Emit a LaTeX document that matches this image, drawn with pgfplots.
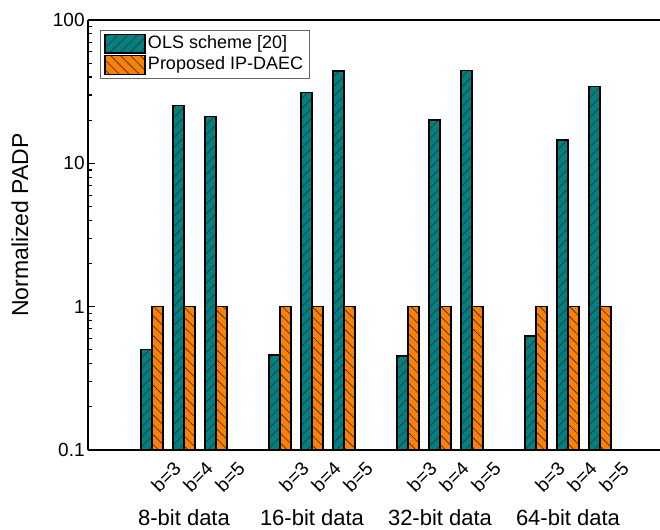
\documentclass[border=0pt]{standalone}
\usepackage{fontspec}
\setmainfont{Liberation Sans}
\usepackage{pgfplots}
\pgfplotsset{compat=1.18}
\usetikzlibrary{patterns.meta,calc}
\definecolor{olsc}{RGB}{0,128,128}
\definecolor{ipc}{RGB}{255,128,0}
\definecolor{hatchc}{RGB}{60,60,60}
\begin{document}
\begin{tikzpicture}
\begin{axis}[
  name=ax,
  scale only axis,
  width=286pt, height=215pt,
  xmin=-2, xmax=15.875,
  ymode=log, ymin=0.1, ymax=100,
  log origin=infty,
  axis x line=box, axis y line=left,
  x axis line style={-}, y axis line style={-},
  axis line style={line width=1pt},
  ybar=0pt, bar width=0.34,
  ytick={0.1,1,10,100},
  yticklabels={0.1,1,10,100},
  minor ytick={0.2,0.3,0.4,0.5,0.6,0.7,0.8,0.9,2,3,4,5,6,7,8,9,20,30,40,50,60,70,80,90},
  ytick align=inside,
  major tick length=3.5pt, minor tick length=2pt,
  every tick/.style={black, line width=0.6pt},
  yticklabel style={font=\fontsize{9.5}{11}\selectfont, inner sep=1.5pt},
  xtick={0,1,2,4,5,6,8,9,10,12,13,14},
  xticklabels={{b=3},{b=4},{b=5},{b=3},{b=4},{b=5},{b=3},{b=4},{b=5},{b=3},{b=4},{b=5}},
  xtick style={draw=none},
  minor x tick num=0,
  xticklabel style={xshift=13.5pt, yshift=-3.5pt, rotate=45, anchor=east, font=\fontsize{9.5}{10}\selectfont, inner sep=1pt},
  /pgf/number format/assume math mode=true,
  legend style={at={(rel axis cs:0,1)}, anchor=north west, xshift=6pt, yshift=-5pt,
    draw=black!60, line width=0.5pt, font=\fontsize{9}{10}\selectfont,
    inner xsep=2pt, inner ysep=1.5pt, row sep=0.5pt,
    nodes={inner sep=1pt}},
  legend cell align=left,
  legend image code/.code={\draw[#1] (0pt,-4.7pt) rectangle (20pt,4.7pt);},
]
\addplot[draw=black, line width=0.75pt, fill=olsc,
  postaction={pattern={Lines[angle=45,distance=3.5pt,line width=0.4pt]}, pattern color=hatchc}]
  coordinates {(0,0.504) (1,25.3) (2,21.3)
               (4,0.460) (5,31.3) (6,44.2)
               (8,0.451) (9,20.1) (10,44.4)
               (12,0.625) (13,14.5) (14,34.5)};
\addlegendentry{OLS scheme [20]}
\addplot[draw=black, line width=0.75pt, fill=ipc,
  postaction={pattern={Lines[angle=-45,distance=3.5pt,line width=0.4pt]}, pattern color=hatchc}]
  coordinates {(0,1) (1,1) (2,1)
               (4,1) (5,1) (6,1)
               (8,1) (9,1) (10,1)
               (12,1) (13,1) (14,1)};
\addlegendentry{Proposed IP-DAEC}
\coordinate (yl) at (rel axis cs:0,0.523);
\coordinate (g1) at (axis cs:1,0.1);
\coordinate (g2) at (axis cs:5,0.1);
\coordinate (g3) at (axis cs:9,0.1);
\coordinate (g4) at (axis cs:13,0.1);
\end{axis}
\node[rotate=90, font=\fontsize{11.5}{13}\selectfont] at ([xshift=-34pt]yl) {Normalized PADP};
\node[font=\fontsize{11}{13}\selectfont] at ([yshift=-34pt]g1) {8-bit data};
\node[font=\fontsize{11}{13}\selectfont] at ([yshift=-34pt]g2) {16-bit data};
\node[font=\fontsize{11}{13}\selectfont] at ([yshift=-34pt]g3) {32-bit data};
\node[font=\fontsize{11}{13}\selectfont] at ([yshift=-34pt]g4) {64-bit data};
\pgfresetboundingbox
\useasboundingbox ($(ax.south west)+(-44pt,-39.5pt)$) rectangle ($(ax.north east)+(0,10pt)$);
\end{tikzpicture}
\end{document}
